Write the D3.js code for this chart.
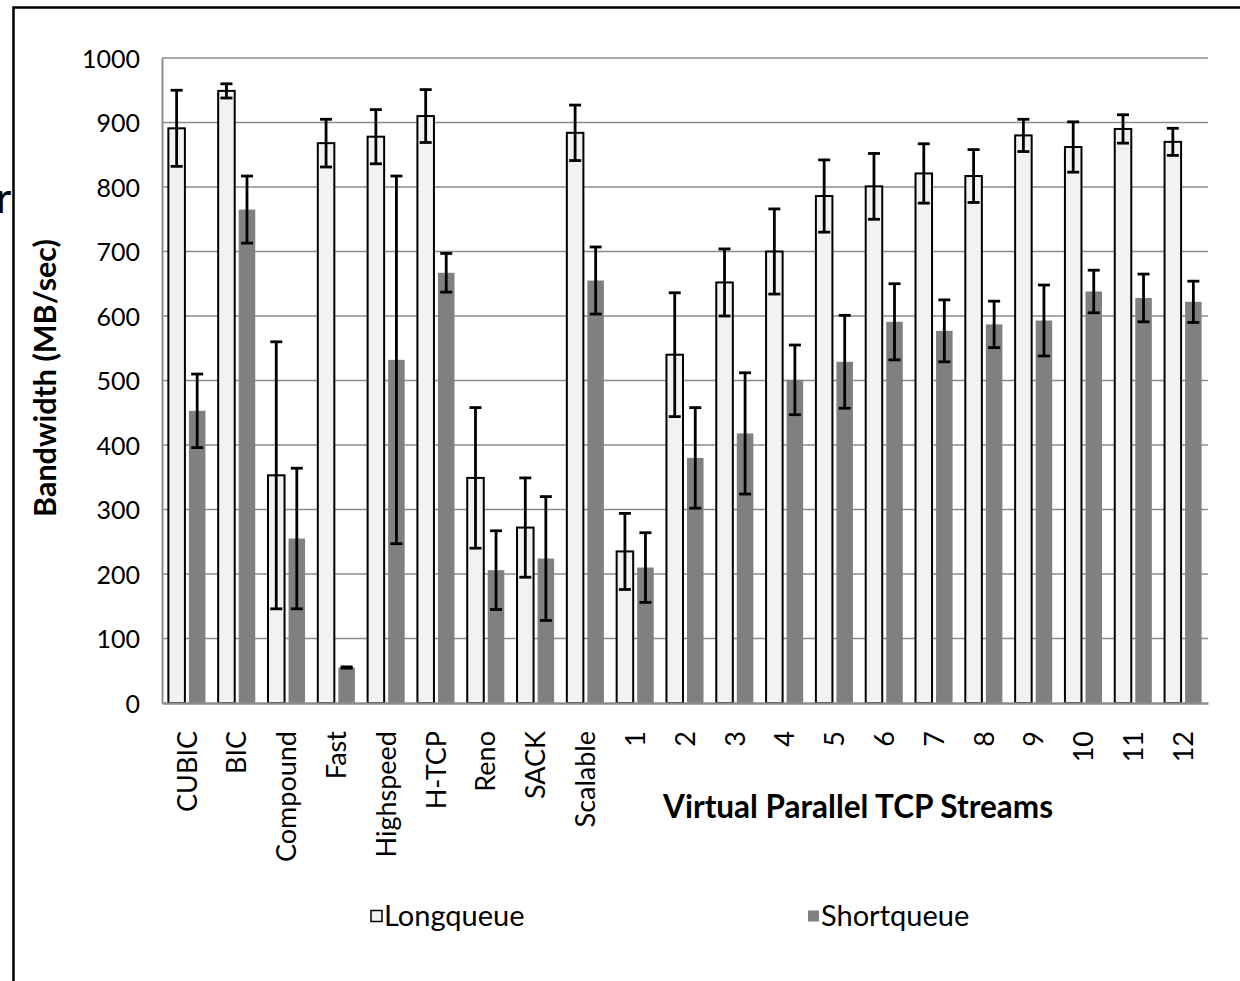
<!DOCTYPE html>
<html>
<head>
<meta charset="utf-8">
<script src="https://cdn.jsdelivr.net/npm/d3@7"></script>
<style>
  html, body { margin: 0; padding: 0; background: #fff; }
  svg { display: block; }
  text { font-family: Lato, "Noto Sans", sans-serif; fill: #000; }
</style>
</head>
<body>
<svg id="chart" width="1240" height="981"></svg>
<script>
// TCP variants, then 1..12 virtual parallel streams
const categories = ["CUBIC", "BIC", "Compound", "Fast", "Highspeed", "H-TCP", "Reno", "SACK", "Scalable",
  "1", "2", "3", "4", "5", "6", "7", "8", "9", "10", "11", "12"];

// Mean bandwidth (MB/sec) and error half-width per category
const longqueue    = [891, 949, 353, 868, 878, 910, 349, 272, 884, 235, 540, 652, 700, 786, 801, 821, 817, 880, 862, 890, 870];
const longqueueErr = [ 59,  11, 207,  37,  42,  41, 109,  77,  43,  59,  96,  52,  66,  56,  51,  46,  41,  25,  39,  22,  21];
const shortqueue    = [453, 765, 255, 55, 532, 667, 206, 224, 655, 210, 380, 418, 501, 529, 591, 577, 587, 593, 638, 628, 622];
const shortqueueErr = [ 57,  52, 109,  1, 285,  30,  61,  96,  52,  54,  78,  94,  54,  72,  59,  48,  36,  55,  33,  37,  32];

const yTicks = [0, 100, 200, 300, 400, 500, 600, 700, 800, 900, 1000];
const seriesNames = ["Longqueue", "Shortqueue"];

const svg = d3.select("#chart");
const plot = { left: 162, right: 1208, top: 58, bottom: 703 };

const x0 = d3.scaleBand().domain(categories).range([plot.left, plot.right]).padding(0);
const x1 = d3.scaleBand().domain(seriesNames).range([0, x0.bandwidth()])
  .paddingInner(0.195).paddingOuter(0.31);
const y = d3.scaleLinear().domain([0, 1000]).range([plot.bottom, plot.top]);

// Outer chart frame (left and top edges)
svg.append("path")
  .attr("d", `M13.5,981 L13.5,7.5 L1240,7.5`)
  .attr("fill", "none").attr("stroke", "#000").attr("stroke-width", 2.5);

// Stray glyph cut off at the left margin
svg.append("text").attr("x", -4).attr("y", 213).attr("font-size", 42).text("r");

// Horizontal gridlines
svg.append("g").selectAll("line").data(yTicks.filter(d => d > 0)).join("line")
  .attr("x1", plot.left).attr("x2", plot.right)
  .attr("y1", d => y(d)).attr("y2", d => y(d))
  .attr("stroke", "#8c8c8c").attr("stroke-width", 1.6);

// Y axis labels
const yAxis = d3.axisLeft(y).tickValues(yTicks).tickFormat(d3.format("d")).tickSize(0).tickPadding(22);
const gy = svg.append("g").attr("transform", `translate(${plot.left},0)`).call(yAxis);
gy.select(".domain").attr("stroke", "#8c8c8c").attr("stroke-width", 2);
gy.selectAll("text").attr("font-size", 25).attr("font-family", "Lato, sans-serif").attr("dy", "0.36em");

// Bars
const groups = svg.append("g").selectAll("g").data(categories).join("g")
  .attr("transform", d => `translate(${x0(d)},0)`);

groups.append("rect")
  .attr("x", x1("Longqueue")).attr("width", x1.bandwidth())
  .attr("y", (d, i) => y(longqueue[i])).attr("height", (d, i) => y(0) - y(longqueue[i]))
  .attr("fill", "#f2f2f2").attr("stroke", "#000").attr("stroke-width", 2);

groups.append("rect")
  .attr("x", x1("Shortqueue")).attr("width", x1.bandwidth())
  .attr("y", (d, i) => y(shortqueue[i])).attr("height", (d, i) => y(0) - y(shortqueue[i]))
  .attr("fill", "#808080");

// Error bars
function errorBar(sel, key, vals, errs) {
  const cx = x1(key) + x1.bandwidth() / 2;
  const cap = 6;
  const g = sel.append("g").attr("stroke", "#000").attr("stroke-width", 2.8).attr("fill", "none");
  g.append("line").attr("x1", cx).attr("x2", cx)
    .attr("y1", (d, i) => y(vals[i] + errs[i])).attr("y2", (d, i) => y(vals[i] - errs[i]));
  g.append("line").attr("x1", cx - cap).attr("x2", cx + cap)
    .attr("y1", (d, i) => y(vals[i] + errs[i])).attr("y2", (d, i) => y(vals[i] + errs[i]));
  g.append("line").attr("x1", cx - cap).attr("x2", cx + cap)
    .attr("y1", (d, i) => y(vals[i] - errs[i])).attr("y2", (d, i) => y(vals[i] - errs[i]));
}
errorBar(groups, "Longqueue", longqueue, longqueueErr);
errorBar(groups, "Shortqueue", shortqueue, shortqueueErr);

// X axis
const xAxis = d3.axisBottom(x0).tickSize(0).tickPadding(0);
const gx = svg.append("g").attr("transform", `translate(0,${plot.bottom})`).call(xAxis);
gx.select(".domain").attr("stroke", "#8c8c8c").attr("stroke-width", 2.5);
gx.selectAll("text")
  .attr("font-size", 27).attr("font-family", "Lato, sans-serif")
  .attr("text-anchor", "end")
  .attr("transform", "rotate(-90)")
  .attr("x", -28).attr("y", 0).attr("dy", "0.36em");

// Axis titles
svg.append("text")
  .attr("transform", `translate(56,378) rotate(-90)`)
  .attr("text-anchor", "middle").attr("font-size", 30.5).attr("font-weight", "bold")
  .text("Bandwidth (MB/sec)");

svg.append("text")
  .attr("x", 858).attr("y", 818)
  .attr("text-anchor", "middle").attr("font-size", 31.5).attr("font-weight", "bold")
  .text("Virtual Parallel TCP Streams");

// Legend
const legend = [
  { name: seriesNames[0], x: 371, fill: "#f2f2f2", stroke: "#000" },
  { name: seriesNames[1], x: 808, fill: "#808080", stroke: "none" }
];
const lg = svg.append("g").selectAll("g").data(legend).join("g")
  .attr("transform", d => `translate(${d.x},916)`);
lg.append("rect").attr("x", 0).attr("y", -5.5).attr("width", 11).attr("height", 11)
  .attr("fill", d => d.fill).attr("stroke", d => d.stroke).attr("stroke-width", 1.5);
lg.append("text").attr("x", 13).attr("y", 0).attr("dy", "0.36em").attr("font-size", 29)
  .text(d => d.name);
</script>
</body>
</html>
